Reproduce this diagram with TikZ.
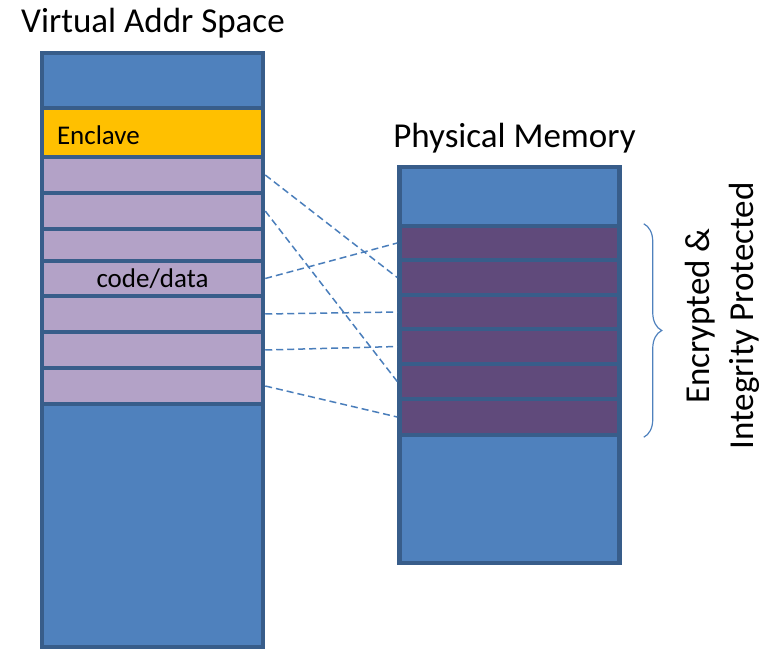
\documentclass[tikz,border=0pt]{standalone}
\usepackage{fontspec}
\setmainfont{Carlito}
\usepackage{xcolor}
\usepackage{tikz}
\usetikzlibrary{positioning}
\usetikzlibrary{decorations.pathreplacing}

\definecolor{memblue}{HTML}{4F81BD}
\definecolor{memedge}{HTML}{385D8A}
\definecolor{pagelight}{HTML}{B3A2C7}
\definecolor{pagedark}{HTML}{604A7B}
\definecolor{enclorange}{HTML}{FFC000}
\definecolor{mapblue}{HTML}{4A7EBB}

\begin{document}
\begin{tikzpicture}[x=1pt,y=-1pt,
  blk/.style={rectangle,draw=memedge,line width=4.5pt,inner sep=0pt,minimum width=221pt},
  vfree/.style={blk,fill=memblue},
  vpage/.style={blk,fill=pagelight,font=\fontsize{27}{32}\selectfont},
  ppage/.style={blk,fill=pagedark,minimum width=220pt},
  pfree/.style={blk,fill=memblue,minimum width=220pt},
  title/.style={font=\fontsize{35}{42}\selectfont,anchor=base},
  map/.style={draw=mapblue,line width=1.5pt,dash pattern=on 7pt off 4pt}]
\useasboundingbox (0,0) rectangle (772,650);
% virtual address space
\node[title] (vtitle) at (153,33) {Virtual Addr Space};
\node[vfree, minimum height=55pt] (vtop) at (152.5,80.5) {};
\node[blk, fill=enclorange, minimum height=49pt, inner xsep=15pt, text width=191pt,
  text height=24pt, text depth=0pt,
  align=left, font=\fontsize{27}{32}\selectfont] (venc) at (152.5,132.5) {Enclave};
\node[vpage, minimum height=36pt] (v1) at (152.5,175) {};
\node[vpage, minimum height=36pt] (v2) at (152.5,211) {};
\node[vpage, minimum height=32pt] (v3) at (152.5,245) {};
\node[vpage, minimum height=35pt] (v4) at (152.5,278.5) {code/data};
\node[vpage, minimum height=36pt] (v5) at (152.5,314) {};
\node[vpage, minimum height=36pt] (v6) at (152.5,350) {};
\node[vpage, minimum height=36pt] (v7) at (152.5,386) {};
\node[vfree, minimum height=243pt] (vbot) at (152.5,525.5) {};
% physical memory
\node[title] (ptitle) at (514.5,148) {Physical Memory};
\node[pfree, minimum height=59pt] (ptop) at (509.5,196.5) {};
\node[ppage, minimum height=34pt] (p1) at (509.5,243) {};
\node[ppage, minimum height=35pt] (p2) at (509.5,277.5) {};
\node[ppage, minimum height=34pt] (p3) at (509.5,312) {};
\node[ppage, minimum height=35pt] (p4) at (509.5,346.5) {};
\node[ppage, minimum height=35pt] (p5) at (509.5,381.5) {};
\node[ppage, minimum height=36pt] (p6) at (509.5,417) {};
\node[pfree, minimum height=128pt] (pbot) at (509.5,499) {};
% page mappings
\draw[map] (v1.east) -- (p2.west);
\draw[map] (v2.east) -- (p5.west);
\draw[map] (v4.east) -- (p1.west);
\draw[map] (v5.east) -- (p3.west);
\draw[map] (v6.east) -- (p4.west);
\draw[map] (v7.east) -- (p6.west);
% protected range
\coordinate (btop) at ([xshift=22pt]p1.north east);
\coordinate (bbot) at ([xshift=22pt]p6.south east);
\draw[memblue,line width=1.2pt,decorate,decoration={brace,amplitude=18pt}] (btop) -- (bbot);
\node[rotate=90,align=center,font=\fontsize{35}{44}\selectfont] (prot) at (722,316)
  {Encrypted \&\\Integrity Protected};
\end{tikzpicture}
\end{document}
